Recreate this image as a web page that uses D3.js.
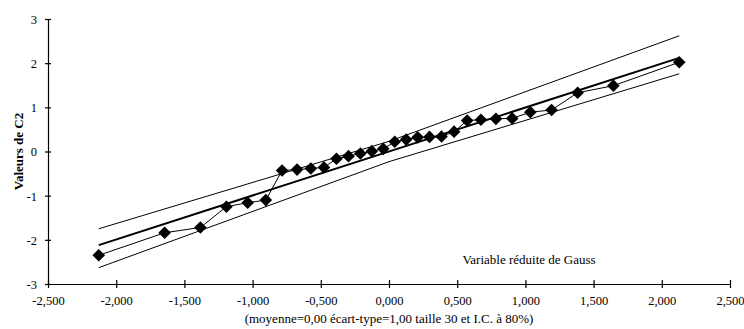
<!DOCTYPE html>
<html>
<head>
<meta charset="utf-8">
<script src="https://cdn.jsdelivr.net/npm/d3@7"></script>
<style>
  html, body { margin: 0; padding: 0; background: #fff; }
  svg { display: block; }
  svg text { font-family: "Liberation Serif", "Times New Roman", Tinos, "DejaVu Serif", serif !important; fill: #000; }
</style>
</head>
<body>
<svg id="chart" width="744" height="329"></svg>
<script>
// Normal scores (expected standard normal quantiles) for a sample of 30
const zScores = [-2.128, -1.645, -1.383, -1.192, -1.036, -0.903, -0.784, -0.674, -0.573, -0.477,
                 -0.385, -0.297, -0.210, -0.126, -0.042, 0.042, 0.126, 0.210, 0.297, 0.385,
                 0.477, 0.573, 0.674, 0.784, 0.903, 1.036, 1.192, 1.383, 1.645, 2.128];
// Sorted standardized values of C2
const c2Values = [-2.35, -1.84, -1.72, -1.25, -1.16, -1.10, -0.43, -0.41, -0.385, -0.36,
                  -0.165, -0.105, -0.045, 0.007, 0.06, 0.22, 0.27, 0.32, 0.33, 0.34,
                  0.45, 0.70, 0.72, 0.74, 0.75, 0.89, 0.94, 1.33, 1.49, 2.02];
// Henry line (moyenne + écart-type * z)
const fitX = [-2.128, 2.128];
const fitY = [-2.12, 2.12];
// 80% confidence band around the Henry line
const bandX = [-2.128, 0, 2.128];
const bandUpper = [-1.75, 0.23, 2.62];
const bandLower = [-2.63, -0.23, 1.76];
// Axis ticks
const xTicks = [-2.5, -2.0, -1.5, -1.0, -0.5, 0, 0.5, 1.0, 1.5, 2.0, 2.5];
const yTicks = [-3, -2, -1, 0, 1, 2, 3];

const svg = d3.select("#chart");
const x = d3.scaleLinear().domain([-2.5, 2.5]).range([48, 730]);
const y = d3.scaleLinear().domain([-3, 3]).range([284, 19]);

const fmtX = v => d3.format(".3f")(v).replace("\u2212", "-").replace(".", ",");
const fmtY = v => String(v);

// Y axis
const gy = svg.append("g").attr("transform", `translate(${x(-2.5)},0)`)
  .call(d3.axisLeft(y).tickValues(yTicks).tickFormat(fmtY).tickSizeOuter(0).tickSizeInner(3).tickPadding(8));
gy.attr("font-family", null);
gy.select(".domain").attr("stroke", "#000").attr("stroke-width", 1.2);
gy.selectAll(".tick line").attr("x1", -3).attr("x2", 3).attr("stroke", "#000").attr("stroke-width", 1.2);
gy.selectAll(".tick text").style("font-size", "12.5px").attr("dy", "0.35em");

// X axis
const gx = svg.append("g").attr("transform", `translate(0,${y(-3)})`)
  .call(d3.axisBottom(x).tickValues(xTicks).tickFormat(fmtX).tickSizeOuter(0).tickSizeInner(4).tickPadding(8));
gx.attr("font-family", null);
gx.select(".domain").attr("stroke", "#000").attr("stroke-width", 1.2);
gx.selectAll(".tick line").attr("y1", -4).attr("y2", 4).attr("stroke", "#000").attr("stroke-width", 1.2);
gx.selectAll(".tick text").style("font-size", "12.5px");

// Confidence band lines
const line = d3.line().x(d => x(d[0])).y(d => y(d[1]));
svg.append("path").attr("d", line(d3.zip(bandX, bandUpper)))
  .attr("fill", "none").attr("stroke", "#000").attr("stroke-width", 1);
svg.append("path").attr("d", line(d3.zip(bandX, bandLower)))
  .attr("fill", "none").attr("stroke", "#000").attr("stroke-width", 1);

// Henry line
svg.append("path").attr("d", line(d3.zip(fitX, fitY)))
  .attr("fill", "none").attr("stroke", "#000").attr("stroke-width", 2);

// Observed values joined in order
const pts = d3.zip(zScores, c2Values);
svg.append("path").attr("d", line(pts))
  .attr("fill", "none").attr("stroke", "#000").attr("stroke-width", 1);

// Diamond markers
const diamond = d3.symbol().type(d3.symbolSquare).size(80);
svg.append("g").selectAll("path").data(pts).join("path")
  .attr("d", diamond)
  .attr("transform", d => `translate(${x(d[0])},${y(d[1])}) rotate(45)`)
  .attr("fill", "#000");

// Titles
svg.append("text")
  .attr("transform", `translate(23,${y(0)}) rotate(-90)`)
  .attr("text-anchor", "middle")
  .style("font-size", "13px").style("font-weight", "bold")
  .text("Valeurs de C2");

svg.append("text")
  .attr("x", 529).attr("y", 264)
  .attr("text-anchor", "middle")
  .style("font-size", "13px")
  .text("Variable réduite de Gauss");

svg.append("text")
  .attr("x", x(0)).attr("y", 323)
  .attr("text-anchor", "middle")
  .style("font-size", "13px")
  .text("(moyenne=0,00 écart-type=1,00 taille 30 et I.C. à 80%)");
</script>
</body>
</html>
